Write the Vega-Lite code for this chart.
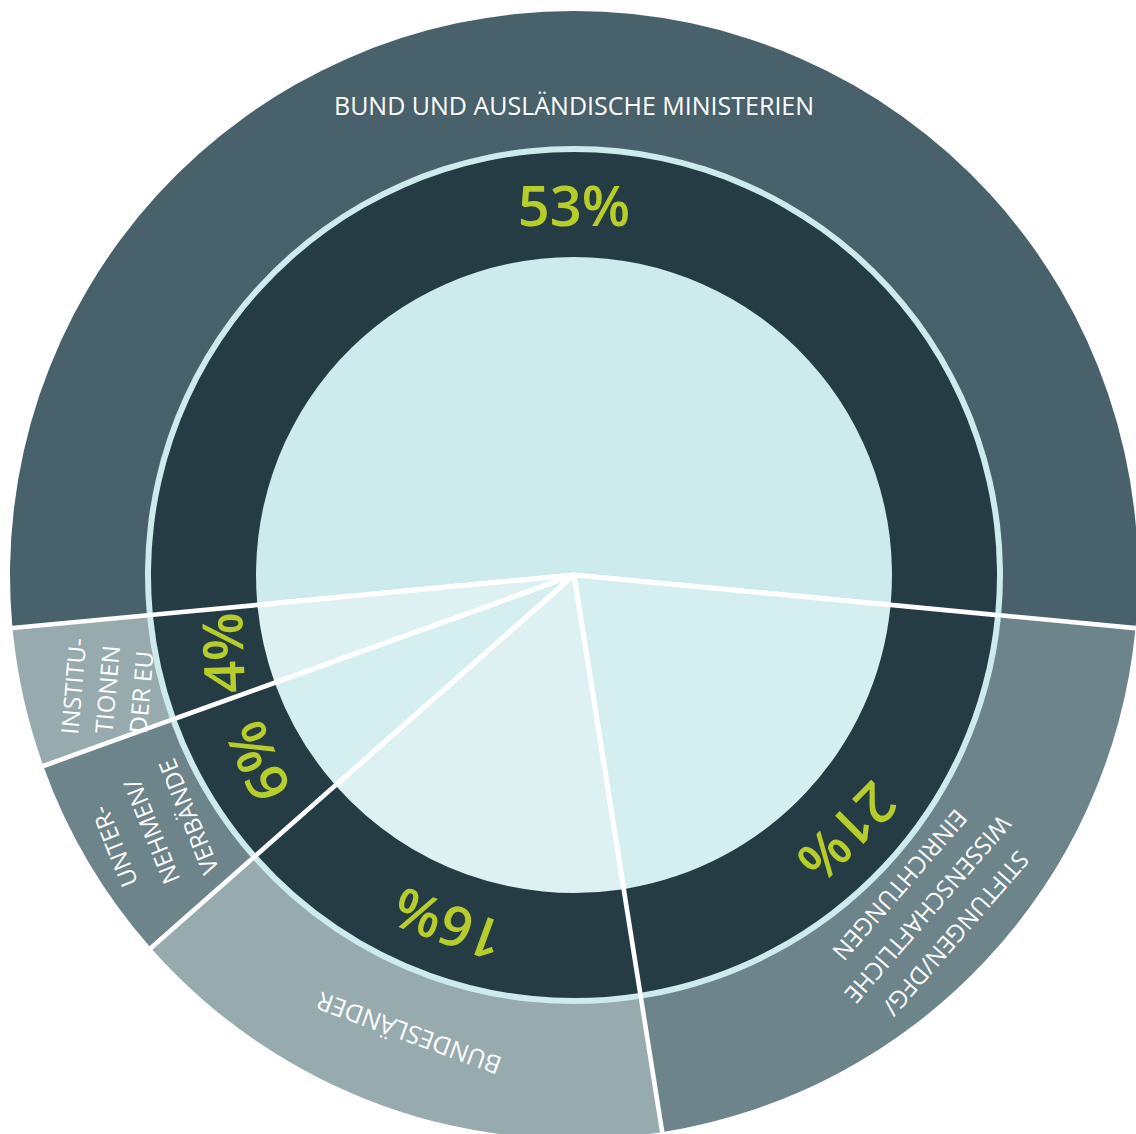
{
  "$schema": "https://vega.github.io/schema/vega-lite/v6.json",
  "width": 1124,
  "height": 1118,
  "autosize": {"type": "none"},
  "padding": {"left": 12, "top": 16, "right": 0, "bottom": 0},
  "background": "#ffffff",
  "view": {"stroke": null},
  "data": {
    "values": [
      {"ord": 1, "cat": "Bund", "value": 53, "pct": "53%", "label": "BUND UND AUSLÄNDISCHE MINISTERIEN"},
      {"ord": 2, "cat": "Stiftungen", "value": 21, "pct": "21%", "label": "STIFTUNGEN/DFG/\nWISSENSCHAFTLICHE\nEINRICHTUNGEN"},
      {"ord": 3, "cat": "Bundesländer", "value": 16, "pct": "16%", "label": "BUNDESLÄNDER"},
      {"ord": 4, "cat": "Unternehmen", "value": 6, "pct": "6%", "label": "UNTER-\nNEHMEN/\nVERBÄNDE"},
      {"ord": 5, "cat": "Institutionen", "value": 4, "pct": "4%", "label": "INSTITU-\nTIONEN\nDER EU"}
    ]
  },
  "encoding": {
    "theta": {"field": "value", "type": "quantitative", "stack": true, "scale": {"domain": [0, 100], "range": [-1.665, 4.6182]}},
    "order": {"field": "ord", "type": "quantitative"},
    "detail": {"field": "cat", "type": "nominal"}
  },
  "layer": [
    {
      "mark": {"type": "arc", "outerRadius": 321, "innerRadius": 0, "stroke": "#ffffff", "strokeWidth": 5, "strokeJoin": "round"},
      "encoding": {
        "color": {"field": "cat", "type": "nominal", "legend": null,
          "scale": {"domain": ["Bund", "Stiftungen", "Bundesländer", "Unternehmen", "Institutionen"], "range": ["#cdeaec", "#d5eff0", "#ddf1f3", "#d5eff0", "#ddf1f3"]}}
      }
    },
    {
      "mark": {"type": "arc", "outerRadius": 564, "innerRadius": 428, "padAngle": 0.0065},
      "encoding": {
        "color": {"field": "cat", "type": "nominal", "legend": null,
          "scale": {"domain": ["Bund", "Stiftungen", "Bundesländer", "Unternehmen", "Institutionen"], "range": ["#48616a", "#6d848a", "#97aaae", "#6d848a", "#97aaae"]}}
      }
    },
    {
      "mark": {"type": "arc", "outerRadius": 429, "innerRadius": 420, "padAngle": 0.0075, "color": "#cdeaec"}
    },
    {
      "mark": {"type": "arc", "outerRadius": 423, "innerRadius": 318, "padAngle": 0.0088, "color": "#263c45"}
    },
    {
      "mark": {"type": "text", "radius": 366, "angle": 0, "font": "Open Sans", "fontSize": 56, "fontWeight": 600, "color": "#b6cd2b", "align": "center", "baseline": "middle"},
      "encoding": {"text": {"condition": {"test": "datum.cat === 'Bund'", "field": "pct", "type": "nominal"}, "value": ""}}
    },
    {
      "mark": {"type": "text", "radius": 372, "angle": 135, "font": "Open Sans", "fontSize": 56, "fontWeight": 600, "color": "#b6cd2b", "align": "center", "baseline": "middle"},
      "encoding": {"text": {"condition": {"test": "datum.cat === 'Stiftungen'", "field": "pct", "type": "nominal"}, "value": ""}}
    },
    {
      "mark": {"type": "text", "radius": 368, "angle": 200, "font": "Open Sans", "fontSize": 56, "fontWeight": 600, "color": "#b6cd2b", "align": "center", "baseline": "middle"},
      "encoding": {"text": {"condition": {"test": "datum.cat === 'Bundesländer'", "field": "pct", "type": "nominal"}, "value": ""}}
    },
    {
      "mark": {"type": "text", "radius": 364, "angle": -113, "font": "Open Sans", "fontSize": 56, "fontWeight": 600, "color": "#b6cd2b", "align": "center", "baseline": "middle"},
      "encoding": {"text": {"condition": {"test": "datum.cat === 'Unternehmen'", "field": "pct", "type": "nominal"}, "value": ""}}
    },
    {
      "mark": {"type": "text", "radius": 356, "angle": -92, "font": "Open Sans", "fontSize": 56, "fontWeight": 600, "color": "#b6cd2b", "align": "center", "baseline": "middle"},
      "encoding": {"text": {"condition": {"test": "datum.cat === 'Institutionen'", "field": "pct", "type": "nominal"}, "value": ""}}
    },
    {
      "mark": {"type": "text", "radius": 468, "angle": 0, "font": "Open Sans", "fontSize": 25, "color": "#ffffff", "align": "center", "baseline": "middle"},
      "encoding": {"text": {"condition": {"test": "datum.cat === 'Bund'", "field": "label", "type": "nominal"}, "value": ""}}
    },
    {
      "mark": {"type": "text", "radius": 522, "angle": 131, "font": "Open Sans", "fontSize": 24, "lineHeight": 37, "lineBreak": "\n", "color": "#ffffff", "align": "center", "baseline": "middle"},
      "encoding": {"text": {"condition": {"test": "datum.cat === 'Stiftungen'", "field": "label", "type": "nominal"}, "value": ""}}
    },
    {
      "mark": {"type": "text", "radius": 486, "angle": 200, "font": "Open Sans", "fontSize": 25, "color": "#ffffff", "align": "center", "baseline": "middle"},
      "encoding": {"text": {"condition": {"test": "datum.cat === 'Bundesländer'", "field": "label", "type": "nominal"}, "value": ""}}
    },
    {
      "mark": {"type": "text", "radius": 532, "angle": -112, "font": "Open Sans", "fontSize": 24, "lineHeight": 40, "lineBreak": "\n", "color": "#ffffff", "align": "center", "baseline": "middle"},
      "encoding": {"text": {"condition": {"test": "datum.cat === 'Unternehmen'", "field": "label", "type": "nominal"}, "value": ""}}
    },
    {
      "mark": {"type": "text", "radius": 511, "angle": -85, "font": "Open Sans", "fontSize": 24, "lineHeight": 34, "lineBreak": "\n", "color": "#ffffff", "align": "center", "baseline": "middle"},
      "encoding": {"text": {"condition": {"test": "datum.cat === 'Institutionen'", "field": "label", "type": "nominal"}, "value": ""}}
    }
  ],
  "resolve": {"scale": {"color": "independent"}}
}
